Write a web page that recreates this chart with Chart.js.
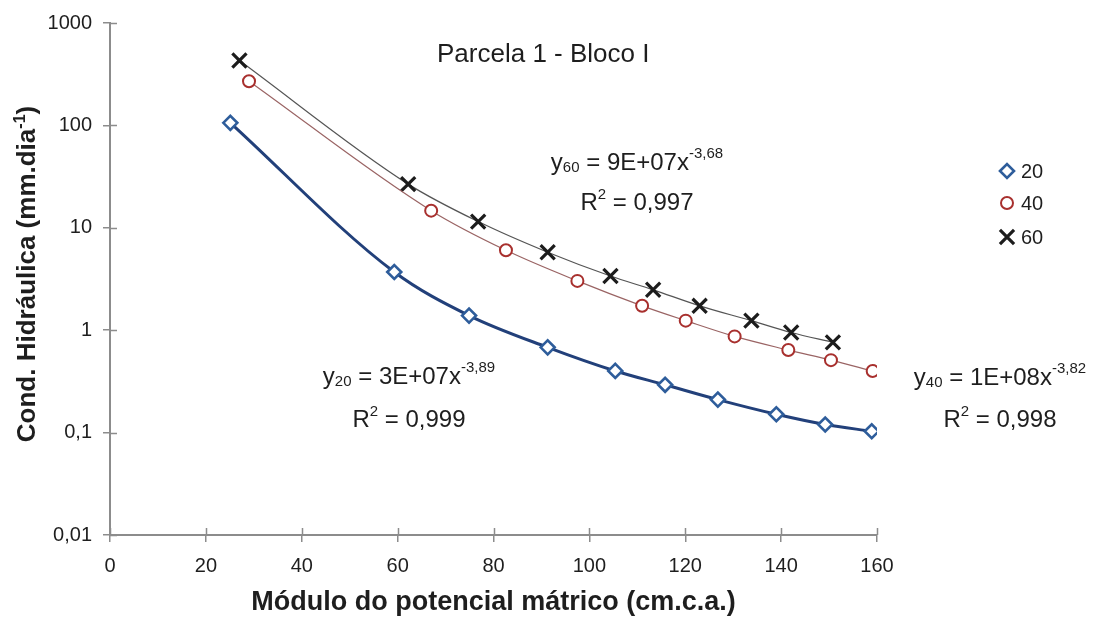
<!DOCTYPE html>
<html lang="pt">
<head>
<meta charset="utf-8">
<title>Parcela 1 - Bloco I</title>
<script src="https://cdn.jsdelivr.net/npm/chart.js@4.4.1/dist/chart.umd.min.js"></script>
<style>
  html, body { margin: 0; padding: 0; background: #fff; }
  #wrap { position: relative; width: 1110px; height: 629px; }
</style>
</head>
<body>
<div id="wrap"><canvas id="cond"></canvas></div>
<script>
// Condutividade hidráulica x módulo do potencial mátrico, três profundidades (cm)
const depths = ["20", "40", "60"];

const suction20 = [25.1, 59.3, 74.9, 91.3, 105.4, 115.8, 126.8, 139.0, 149.2, 158.9];
const cond20 = [106, 3.70, 1.39, 0.68, 0.40, 0.293, 0.21, 0.151, 0.12, 0.103];

const suction40 = [29.0, 67.0, 82.6, 97.5, 111.0, 120.1, 130.3, 141.5, 150.4, 159.1];
const cond40 = [270, 14.7, 6.03, 3.03, 1.73, 1.24, 0.87, 0.64, 0.51, 0.40];

const suction60 = [27.0, 62.2, 76.8, 91.3, 104.4, 113.3, 123.0, 133.8, 142.1, 150.8];
const cond60 = [430, 26.7, 11.5, 5.77, 3.38, 2.48, 1.73, 1.24, 0.95, 0.76];

// ajustes potenciais (y = a.x^b) como aparecem no gráfico
const fitCoef = ["3E+07", "1E+08", "9E+07"];
const fitExp = ["-3,89", "-3,82", "-3,68"];
const fitR2 = ["0,999", "0,998", "0,997"];

const yTickValues = [0.01, 0.1, 1, 10, 100, 1000];
const yTickLabels = ["0,01", "0,1", "1", "10", "100", "1000"];

const FONT = '"Liberation Sans", Arial, Helvetica, sans-serif';
const INK = "#1e1e1e";
const AXIS = "#8c8c8c";
const TICK = 7;

Chart.defaults.font.family = FONT;
Chart.defaults.color = INK;

const pts = (xs, ys) => xs.map((x, i) => ({ x, y: ys[i] }));

const datasets = [
  {
    label: depths[0], data: pts(suction20, cond20),
    borderColor: "#22407a", borderWidth: 3,
    pointStyle: "rectRot", pointRadius: 7, pointBorderWidth: 2.6,
    pointBorderColor: "#2e5d9b", pointBackgroundColor: "#ffffff",
  },
  {
    label: depths[1], data: pts(suction40, cond40),
    borderColor: "#9a6464", borderWidth: 1.2,
    pointStyle: "circle", pointRadius: 6, pointBorderWidth: 2,
    pointBorderColor: "#a8302e", pointBackgroundColor: "#ffffff",
  },
  {
    label: depths[2], data: pts(suction60, cond60),
    borderColor: "#555555", borderWidth: 1.2,
    pointStyle: "crossRot", pointRadius: 10, pointBorderWidth: 3.2,
    pointBorderColor: "#1c1c1c", pointBackgroundColor: "#1c1c1c",
  },
].map((d) => ({ showLine: true, fill: false, cubicInterpolationMode: "monotone", ...d }));

// texto em sequência, com trechos sub/sobrescritos; [texto, tamanho, elevação, negrito]
function runsWidth(ctx, runs) {
  let w = 0;
  for (const [t, size, , bold] of runs) {
    ctx.font = `${bold ? "bold " : ""}${size}px ${FONT}`;
    w += ctx.measureText(t).width;
  }
  return w;
}
function drawRuns(ctx, cx, y, runs) {
  let x = cx - runsWidth(ctx, runs) / 2;
  ctx.textAlign = "left";
  ctx.textBaseline = "alphabetic";
  for (const [t, size, rise, bold] of runs) {
    ctx.font = `${bold ? "bold " : ""}${size}px ${FONT}`;
    ctx.fillText(t, x, y - rise);
    x += ctx.measureText(t).width;
  }
}

const eqPlace = [
  { cx: 409, y1: 384, y2: 427 },
  { cx: 1000, y1: 385, y2: 427 },
  { cx: 637, y1: 170, y2: 210 },
];
const legendPlace = { x: 1007, y: [171, 203, 237] };

const decorations = {
  id: "decorations",
  afterDraw(chart) {
    const { ctx, chartArea: a, scales } = chart;
    ctx.save();

    // meia-marca interna dos ticks (marcas cruzando o eixo)
    ctx.strokeStyle = AXIS;
    ctx.lineWidth = 1.5;
    ctx.beginPath();
    scales.y.ticks.forEach((t) => {
      const py = Math.round(scales.y.getPixelForValue(t.value)) + 0.5;
      ctx.moveTo(a.left, py); ctx.lineTo(a.left + TICK, py);
    });
    scales.x.ticks.forEach((t) => {
      const px = Math.round(scales.x.getPixelForValue(t.value)) + 0.5;
      ctx.moveTo(px, a.bottom); ctx.lineTo(px, a.bottom - TICK);
    });
    ctx.stroke();

    ctx.fillStyle = INK;
    ctx.font = `26px ${FONT}`;
    ctx.textAlign = "left";
    ctx.textBaseline = "alphabetic";
    ctx.fillText("Parcela 1 - Bloco I", 437, 62);

    // equações de ajuste
    depths.forEach((d, i) => {
      const p = eqPlace[i];
      drawRuns(ctx, p.cx, p.y1, [
        ["y", 24, 0], [d, 15, -2], [" = " + fitCoef[i] + "x", 24, 0], [fitExp[i], 15, 12],
      ]);
      drawRuns(ctx, p.cx, p.y2, [["R", 24, 0], ["2", 15, 11], [" = " + fitR2[i], 24, 0]]);
    });

    // título do eixo y com expoente
    ctx.save();
    ctx.translate(35, 274);
    ctx.rotate(-Math.PI / 2);
    drawRuns(ctx, 0, 0, [
      ["Cond. Hidráulica (mm.dia", 26, 0, true], ["-1", 16, 10, true], [")", 26, 0, true],
    ]);
    ctx.restore();

    // legenda
    chart.data.datasets.forEach((ds, i) => {
      const y = legendPlace.y[i];
      ctx.strokeStyle = ds.pointBorderColor;
      ctx.fillStyle = ds.pointBackgroundColor;
      ctx.lineWidth = ds.pointBorderWidth;
      Chart.helpers.drawPoint(ctx, {
        pointStyle: ds.pointStyle, radius: ds.pointRadius, rotation: 0, borderWidth: ds.pointBorderWidth,
      }, legendPlace.x, y);
      ctx.fillStyle = INK;
      ctx.font = `20px ${FONT}`;
      ctx.textAlign = "left";
      ctx.textBaseline = "middle";
      ctx.fillText(ds.label, legendPlace.x + 14, y + 1);
    });

    ctx.restore();
  },
};

new Chart(document.getElementById("cond"), {
  type: "scatter",
  data: { datasets },
  options: {
    responsive: true,
    maintainAspectRatio: false,
    animation: false,
    devicePixelRatio: 1,
    layout: { padding: { top: 17, right: 233, bottom: 0, left: 0 } },
    plugins: { legend: { display: false }, tooltip: { enabled: false } },
    scales: {
      x: {
        type: "linear", min: 0, max: 160,
        afterFit: (s) => { s.height = 94; },
        border: { display: true, color: AXIS, width: 2 },
        grid: { drawOnChartArea: false, drawTicks: true, tickLength: TICK, color: AXIS, lineWidth: 1.5 },
        ticks: { stepSize: 20, padding: 12, color: INK, font: { size: 20 } },
        title: {
          display: true, text: "Módulo do potencial mátrico (cm.c.a.)",
          color: INK, font: { size: 27, weight: "bold" }, padding: { top: 0, bottom: 10 },
        },
      },
      y: {
        type: "logarithmic", min: 0.01, max: 1000,
        afterFit: (s) => { s.width = 110; },
        afterBuildTicks: (s) => { s.ticks = yTickValues.map((v) => ({ value: v })); },
        border: { display: true, color: AXIS, width: 2 },
        grid: { drawOnChartArea: false, drawTicks: true, tickLength: TICK, color: AXIS, lineWidth: 1.5 },
        ticks: {
          padding: 11, color: INK, font: { size: 20 },
          callback: (v) => yTickLabels[yTickValues.indexOf(v)] ?? "",
        },
      },
    },
  },
  plugins: [decorations],
});
</script>
</body>
</html>
